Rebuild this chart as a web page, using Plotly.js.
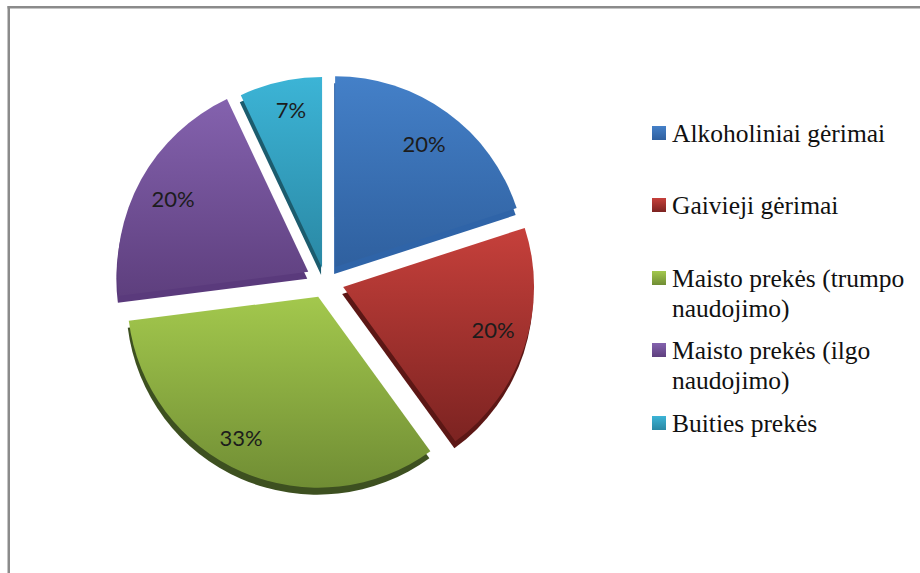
<!DOCTYPE html>
<html>
<head>
<meta charset="utf-8">
<script src="https://cdn.plot.ly/plotly-3.0.1.min.js"></script>
<style>html,body{margin:0;padding:0;background:#fff}#chart{width:920px;height:573px}</style>
</head>
<body>
<div id="chart"></div>
<script>
// Shopping-basket shares by product group
const categories = [
  'Alkoholiniai gėrimai',
  'Gaivieji gėrimai',
  'Maisto prekės (trumpo<br>naudojimo)',
  'Maisto prekės (ilgo<br>naudojimo)',
  'Buities prekės'
];
const shares = [20, 20, 33, 20, 7];
const explode = [0.09, 0.1, 0.09, 0.1, 0.07];

const gradientTop = ['#4480c8', '#c6403b', '#a3c84d', '#8462ae', '#3cb4d6'];
const gradientBottom = ['#2f609f', '#7c2321', '#708d34', '#5e3f7e', '#2a88a4'];
const sideColors = ['#2f64a8', '#5c1715', '#3d5020', '#5a3a7c', '#1c5c6e'];

const W = 920, H = 573;
// Pie box in pixels; the side wall sits in a box nudged down and left
const box = {x0: 115, x1: 535, y0: 71, y1: 491};
const wall = {dx: -1, dy: 7};
const domainOf = (dx, dy) => ({
  x: [(box.x0 + dx) / W, (box.x1 + dx) / W],
  y: [1 - (box.y1 + dy) / H, 1 - (box.y0 + dy) / H]
});

const sideWall = {
  type: 'pie', labels: categories, values: shares, pull: explode,
  sort: false, direction: 'clockwise', rotation: 0,
  domain: domainOf(wall.dx, wall.dy),
  marker: {colors: sideColors, line: {width: 0}},
  textinfo: 'none', hoverinfo: 'skip', showlegend: false
};
const face = {
  type: 'pie', labels: categories, values: shares, pull: explode,
  sort: false, direction: 'clockwise', rotation: 0,
  domain: domainOf(0, 0),
  marker: {colors: gradientTop, line: {width: 0}},
  textinfo: 'percent', textposition: 'inside', insidetextorientation: 'horizontal',
  insidetextfont: {family: 'Lato, sans-serif', size: 22, color: '#1c1c1c'},
  hoverinfo: 'label+percent'
};

const frame = '#8b8b8b';
const layout = {
  width: W, height: H,
  margin: {l: 0, r: 0, t: 0, b: 0, autoexpand: false},
  paper_bgcolor: '#fff',
  showlegend: true,
  legend: {
    x: 650 / W, y: 1 - 115 / H, xanchor: 'left', yanchor: 'top',
    font: {family: '"Liberation Serif", serif', size: 25.5, color: '#111'},
    bgcolor: 'rgba(0,0,0,0)', traceorder: 'normal', itemclick: false, itemdoubleclick: false
  },
  shapes: [
    {type: 'rect', xref: 'paper', yref: 'paper', x0: 7.5 / W, x1: 10 / W, y0: 0, y1: 1 - 6 / H,
     fillcolor: frame, line: {width: 0}},
    {type: 'rect', xref: 'paper', yref: 'paper', x0: 7.5 / W, x1: 1, y0: 1 - 8.5 / H, y1: 1 - 6 / H,
     fillcolor: frame, line: {width: 0}}
  ]
};

// Where the percentage labels and legend rows sit on the page
const labelCentres = [[424, 143], [493, 329], [241, 437], [173, 198], [291, 109]];
const legendRows = [133, 205, 278, 350, 423];
const legendTextX = 672, swatchX = 659, swatchSize = 14;
const legendLineStep = 31;

function shade(gd) {
  const svg = gd.querySelector('.main-svg');
  const NS = 'http://www.w3.org/2000/svg';
  const defs = svg.querySelector('defs') || svg.insertBefore(document.createElementNS(NS, 'defs'), svg.firstChild);
  gradientTop.forEach((c, i) => {
    const g = document.createElementNS(NS, 'linearGradient');
    g.id = 'sliceShade' + i;
    g.setAttribute('x1', 0); g.setAttribute('y1', 0); g.setAttribute('x2', 0); g.setAttribute('y2', 1);
    [[0, c], [1, gradientBottom[i]]].forEach(([o, col]) => {
      const s = document.createElementNS(NS, 'stop');
      s.setAttribute('offset', o); s.setAttribute('stop-color', col);
      g.appendChild(s);
    });
    defs.appendChild(g);
  });
  const faces = gd.querySelectorAll('.trace')[1].querySelectorAll('.slice');
  faces.forEach((slice, i) => {
    slice.querySelector('path.surface').style.fill = `url(#sliceShade${i})`;
    const label = slice.querySelector('text.slicetext');
    if (label) {
      label.setAttribute('transform', '');
      const b = label.getBoundingClientRect();
      const px = labelCentres[i][0] - (b.left + b.width / 2);
      const py = labelCentres[i][1] - (b.top + b.height / 2);
      label.setAttribute('transform', `translate(${px},${py})`);
    }
  });
}

function placeLegend(gd) {
  const scroll = gd.querySelector('.legend .scrollbox');
  if (scroll) scroll.removeAttribute('clip-path');
  gd.querySelectorAll('.legend .traces').forEach((row, i) => {
    const text = row.querySelector('text.legendtext');
    const lines = text.querySelectorAll('tspan.line');
    // Tighten the wrapped second line of the longer entries
    if (lines.length > 1) {
      lines[1].setAttribute('dy', legendLineStep);
    }
    const first = lines.length ? lines[0] : text;
    const m = /translate\(\s*([-\d.]+)[ ,]+([-\d.]+)/.exec(row.getAttribute('transform') || '') || [0, 0, 0];
    const b = first.getBoundingClientRect();
    const ox = +m[1] + legendTextX - b.left;
    const oy = +m[2] + legendRows[i] - (b.top + b.height / 2);
    row.setAttribute('transform', `translate(${ox},${oy})`);
    row.querySelectorAll('path.legendpie').forEach(p => {
      p.style.fill = `url(#sliceShade${i})`;
      p.setAttribute('transform', '');
      const k = swatchSize / 12;
      const s = p.getBoundingClientRect();
      const tx = swatchX - (s.left + s.width / 2);
      const ty = legendRows[i] - (s.top + s.height / 2);
      p.setAttribute('transform', `translate(${tx},${ty}) scale(${k})`);
    });
  });
}

Plotly.newPlot('chart', [sideWall, face], layout, {displayModeBar: false, staticPlot: true}).then(gd => {
  shade(gd);
  placeLegend(gd);
});
</script>
</body>
</html>
